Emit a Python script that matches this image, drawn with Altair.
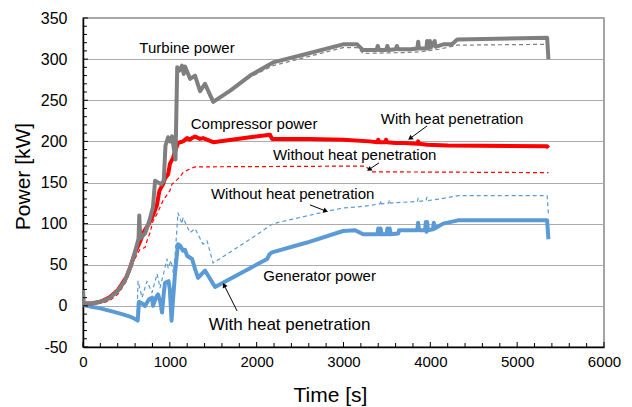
import math
import altair as alt
import pandas as pd

# Plot geometry and scale domains
X_MIN, X_MAX = 0, 6000
Y_MIN, Y_MAX = -50, 350
PLOT_W, PLOT_H = 521, 329
FONT = "Liberation Sans"

GRAY = "#7F7F7F"
RED = "#FF0000"
BLUE = "#5B9BD5"

# ---- Turbine power (with heat penetration, solid) ----
turbine_t = [0, 8, 100, 200, 300, 400, 480, 550, 600, 640, 648, 660, 714, 760, 806, 830,
             864, 900, 930, 950, 980, 1002, 1025, 1065, 1085, 1110, 1140, 1160, 1175, 1233,
             1290, 1348, 1405, 1500, 1700, 1924, 2189, 2558, 2995, 3157, 3226, 3380, 3395,
             3410, 3490, 3505, 3520, 3600, 3615, 3630, 3780, 3850, 3860, 3870, 3955, 3963,
             3975, 3995, 4005, 4050, 4060, 4150, 4250, 4310, 5345, 5360]
turbine_kw = [20, 3, 3, 5, 9, 18, 30, 48, 66, 82, 110, 82, 88, 102, 120, 152,
              150, 148, 152, 195, 205, 200, 206, 178, 290, 286, 292, 282, 291, 276,
              280, 261, 270, 248, 262, 280, 296, 306, 318, 318, 311, 311, 316,
              311, 311, 316, 311, 312, 316, 312, 312, 313, 321, 313, 313, 322,
              313, 322, 314, 322, 315, 318, 318, 324, 326, 300]

# ---- Turbine power (without heat penetration, dashed) ----
turbine_nh_t = [0, 100, 200, 300, 400, 480, 550, 600, 640, 714, 760, 806, 830, 864, 900,
                930, 950, 980, 1002, 1025, 1065, 1085, 1110, 1140, 1160, 1175, 1233, 1290,
                1348, 1405, 1500, 1700, 1924, 2189, 2558, 2995, 3157, 3226, 3700, 3900,
                4100, 4310, 5345]
turbine_nh_kw = [3, 3, 5, 9, 18, 30, 48, 66, 82, 88, 102, 120, 152, 150, 148,
                 152, 195, 205, 200, 206, 178, 290, 286, 292, 282, 291, 276, 280,
                 261, 270, 248, 261, 278, 292, 302, 314, 314, 307, 308, 309,
                 312, 317, 318]

# ---- Compressor power (with heat penetration, solid) ----
comp_t = [0, 100, 200, 300, 400, 500, 541, 600, 657, 700, 760, 806, 850, 880, 922, 945,
          980, 1002, 1037, 1060, 1094, 1152, 1198, 1230, 1256, 1290, 1348, 1382, 1500,
          1924, 2154, 2177, 2600, 3000, 3300, 3390, 3400, 3410, 3480, 3490, 3500, 3600,
          3700, 3850, 3860, 3870, 3963, 4200, 5345, 5360]
comp_kw = [3, 3, 5, 10, 19, 35, 46, 65, 78, 90, 100, 110, 122, 140, 148, 155,
           160, 173, 180, 188, 198, 200, 204, 202, 204, 206, 203, 204, 199,
           205, 208, 203, 203, 202, 200, 199, 202, 199, 199, 202, 199, 198,
           198, 197, 200, 197, 196, 195, 194, 192]

# ---- Compressor power (without heat penetration, dashed) ----
comp_nh_t = [0, 200, 300, 400, 426, 500, 541, 600, 657, 714, 740, 772, 806, 853, 922,
             1000, 1025, 1100, 1152, 1200, 1290, 3250, 3330, 5360]
comp_nh_kw = [2, 3, 6, 14, 18, 30, 45, 58, 69, 71, 80, 89, 103, 112, 128,
              140, 148, 155, 162, 165, 169, 170, 163, 162]

# ---- Generator power (with heat penetration, solid) ----
gen_t = [0, 100, 200, 345, 450, 541, 600, 630, 645, 680, 714, 760, 795, 806, 840, 864,
         890, 910, 930, 945, 985, 1000, 1020, 1035, 1060, 1094, 1120, 1152, 1175, 1198,
         1256, 1290, 1325, 1405, 1521, 2120, 2150, 2177, 2580, 2995, 3134, 3226, 3390,
         3400, 3415, 3427, 3440, 3495, 3505, 3520, 3532, 3545, 3630, 3640, 3850, 3859,
         3870, 3940, 3948, 3956, 3963, 3972, 4030, 4040, 4050, 4147, 4320, 5345, 5360]
gen_kw = [1, -1, -3, -7, -10, -13, -16, -18, 5, 3, 0, 8, 10, 0, 10, 14,
          5, -8, 15, 28, 30, 20, -18, 5, 40, 75, 73, 67, 68, 61,
          57, 45, 34, 43, 23, 57, 63, 65, 77, 91, 92, 87, 87,
          94, 87, 94, 87, 87, 94, 87, 94, 87, 88, 92, 92, 101,
          92, 92, 102, 90, 102, 92, 93, 101, 94, 100, 104, 104, 81]

# ---- Generator power (without heat penetration, dashed) ----
gen_nh_t = [0, 100, 200, 345, 450, 541, 600, 620, 634, 680, 737, 795, 853, 887, 968, 980,
            1014, 1040, 1060, 1094, 1140, 1152, 1233, 1290, 1382, 1429, 1498, 1924, 2189,
            2811, 2995, 3226, 3422, 3430, 3440, 3520, 3530, 3540, 3850, 3860, 3870, 3950,
            3960, 3970, 4113, 4320, 5345, 5360]
gen_nh_kw = [1, -1, -3, -7, -10, -13, -16, -17, 30, 10, 30, 16, 39, 22, 57, 46,
             55, 40, 60, 113, 100, 107, 89, 94, 75, 79, 52, 81, 100,
             115, 119, 121, 124, 128, 124, 125, 129, 125, 127, 131, 127, 128,
             132, 128, 130, 134, 134, 112]

# ---- Annotation labels (centre position in data units) ----
label_text = ["Turbine power", "Compressor power", "With heat penetration",
              "Without heat penetration", "Without heat penetration",
              "Generator power", "With heat penetration"]
label_t = [1198, 1970, 4251, 3128, 2414, 2725, 2379]
label_kw = [313.5, 221.5, 227, 183.5, 136, 36.5, -23]
label_size = [15, 15, 15, 15, 15, 15, 17]

# ---- Annotation arrows (tail -> head, data units) ----
arrow_t0 = [3963, 3409, 2614, 1774]
arrow_kw0 = [218.8, 173.9, 122.8, -6.1]
arrow_t1 = [3744, 3271, 2822, 1612]
arrow_kw1 = [201.8, 164.1, 114.3, 28.0]

# ---- Axis ticks ----
x_major = list(range(0, 6001, 1000))
x_minor = [v for v in range(200, 6000, 200) if v % 1000 != 0]
y_major = list(range(-50, 351, 50))
y_minor = [v for v in range(-40, 350, 10) if v % 50 != 0]

px_x = PLOT_W / (X_MAX - X_MIN)
px_y = PLOT_H / (Y_MAX - Y_MIN)

x_axis = alt.Axis(values=x_major, ticks=False, tickSize=0, grid=False, labelFlush=False,
                  labelFont=FONT, labelFontSize=15, labelColor="black", labelPadding=7,
                  labelExpr="'' + datum.value",
                  domainColor="black", domainWidth=1.5,
                  title="Time [s]", titleFont=FONT, titleFontSize=21,
                  titleFontWeight="normal", titleColor="black",
                  titleX=247, titleY=54, titleAlign="center", titleBaseline="alphabetic")
y_axis = alt.Axis(values=y_major, ticks=False, tickSize=0, grid=True, labelFlush=False,
                  gridColor="#ABABAB", gridWidth=1.2,
                  labelFont=FONT, labelFontSize=16, labelColor="black", labelPadding=16,
                  labelExpr="'' + datum.value",
                  domainColor="black", domainWidth=1.5,
                  title="Power [kW]", titleFont=FONT, titleFontSize=21,
                  titleFontWeight="normal", titleColor="black", titleAngle=270,
                  titleX=-54, titleY=158, titleAlign="center", titleBaseline="alphabetic")


def xenc(field="t"):
    return alt.X(f"{field}:Q", scale=alt.Scale(domain=[X_MIN, X_MAX], nice=False, zero=False),
                 axis=x_axis)


def yenc(field="kw"):
    return alt.Y(f"{field}:Q", scale=alt.Scale(domain=[Y_MIN, Y_MAX], nice=False, zero=False),
                 axis=y_axis)


def series(ts, vals, color, width, dash=None):
    df = pd.DataFrame({"t": ts, "kw": vals, "i": range(len(ts))})
    kw = dict(color=color, strokeWidth=width, clip=True, strokeJoin="round", strokeCap="butt")
    if dash:
        kw["strokeDash"] = dash
    return alt.Chart(df).mark_line(**kw).encode(x=xenc(), y=yenc(), order="i:Q")


lines = [
    series(turbine_nh_t, turbine_nh_kw, GRAY, 1.2, [4, 3]),
    series(comp_nh_t, comp_nh_kw, RED, 1.2, [4, 3]),
    series(gen_nh_t, gen_nh_kw, BLUE, 1.2, [4, 3]),
    series(gen_t, gen_kw, BLUE, 4),
    series(comp_t, comp_kw, RED, 4),
    series(turbine_t, turbine_kw, GRAY, 4),
]

# Inward tick marks
def x_ticks(vals, length):
    df = pd.DataFrame({"t": vals})
    return alt.Chart(df).mark_rule(color="black", strokeWidth=1).encode(
        x=xenc(), y=alt.value(PLOT_H), y2=alt.value(PLOT_H - length))


def y_ticks(vals, length):
    df = pd.DataFrame({"kw": vals})
    return alt.Chart(df).mark_rule(color="black", strokeWidth=1).encode(
        y=yenc(), x=alt.value(0), x2=alt.value(length))


ticks = [x_ticks(x_minor, 4), x_ticks(x_major, 5), y_ticks(y_minor, 4), y_ticks(y_major, 5)]

labels_df = pd.DataFrame({"t": label_t, "kw": label_kw, "label": label_text, "fs": label_size})
labels = alt.Chart(labels_df).mark_text(font=FONT, color="black", align="center",
                                        baseline="middle").encode(
    x=xenc(), y=yenc(), text="label:N", size=alt.Size("fs:Q", scale=None))

# Arrow shafts and heads
head_t, head_kw, head_ang = [], [], []
for t0, k0, t1, k1 in zip(arrow_t0, arrow_kw0, arrow_t1, arrow_kw1):
    dx = (t1 - t0) * px_x
    dy = -(k1 - k0) * px_y
    ang = math.degrees(math.atan2(dx, -dy)) % 360
    L = math.hypot(dx, dy)
    back = 2.5 / L
    head_t.append(t1 - (t1 - t0) * back)
    head_kw.append(k1 - (k1 - k0) * back)
    head_ang.append(ang)

arrows_df = pd.DataFrame({"t": arrow_t0, "kw": arrow_kw0, "t2": head_t, "kw2": head_kw})
shafts = alt.Chart(arrows_df).mark_rule(color="black", strokeWidth=1).encode(
    x=xenc(), y=yenc(), x2="t2:Q", y2="kw2:Q")
heads_df = pd.DataFrame({"t": head_t, "kw": head_kw, "ang": head_ang})
heads = alt.Chart(heads_df).mark_point(shape="triangle-up", filled=True, color="black",
                                       opacity=1, size=30, strokeWidth=0).encode(
    x=xenc(), y=yenc(), angle=alt.Angle("ang:Q", scale=None))

chart = alt.layer(*lines, *ticks, shafts, heads, labels).properties(
    width=PLOT_W, height=PLOT_H,
    autosize=alt.AutoSizeParams(type="none"),
    padding={"left": 83, "top": 18, "right": 28, "bottom": 60},
    background="white",
).configure_view(stroke="#868686", strokeWidth=1.5)

chart.save("out.html", embed_options={"renderer": "svg", "actions": False})
